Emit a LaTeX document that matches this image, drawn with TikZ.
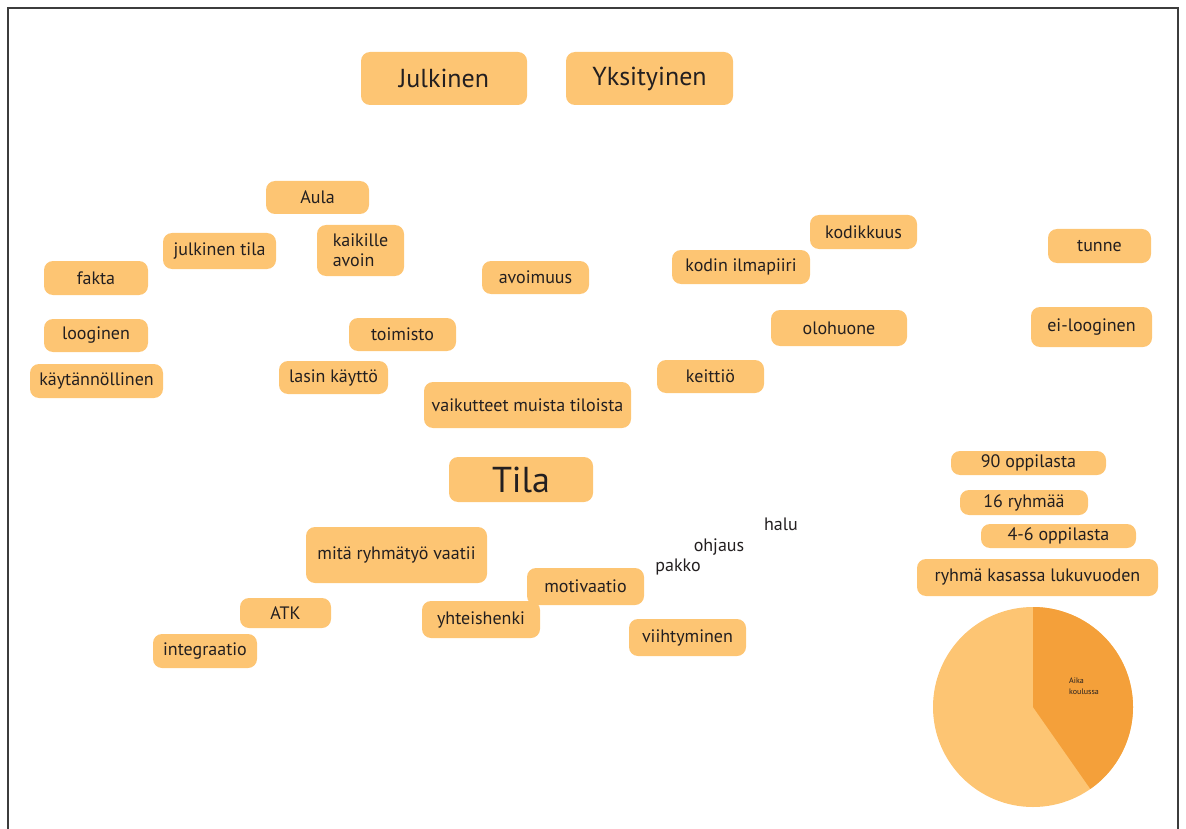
\documentclass[tikz,border=0pt]{standalone}
\usepackage{fontspec}
\setmainfont{PT Sans}
\definecolor{tagfill}{RGB}{253,197,115}
\definecolor{piedark}{RGB}{244,160,58}
\definecolor{ink}{RGB}{35,31,32}
\definecolor{frame}{RGB}{60,60,60}
\tikzset{
  tag/.style 2 args={fill=tagfill, rounded corners=9pt, inner sep=0pt, text=ink,
    minimum width=#1pt, minimum height=#2pt, font=\fontsize{18}{20}\selectfont},
  big/.style={font=\fontsize{26}{30}\selectfont},
  huge/.style={font=\fontsize{36}{40}\selectfont},
  word/.style={text=ink, inner sep=0pt, font=\fontsize{18}{20}\selectfont}
}
\begin{document}
\begin{tikzpicture}[x=1pt,y=-1pt]
  \useasboundingbox (0,0) rectangle (1186,829);
  \draw[frame, line width=1.5pt] (8,829) -- (8,8) -- (1178,8) -- (1178,829);
  % ylarivi
  \node[tag={166}{53}, big] (julkinen) at (444,78.5) {Julkinen};
  \node[tag={167}{53}, big] (yksityinen) at (649.5,78.5) {Yksityinen};
  % julkinen puoli
  \node[tag={103}{33}] (aula) at (317.5,197.5) {Aula};
  \node[tag={113}{36}] (jtila) at (219.5,251) {julkinen tila};
  \node[tag={87}{51}, align=left] (avoin) at (360.5,250.5) {kaikille\\avoin};
  \node[tag={104}{34}] (fakta) at (96,278) {fakta};
  \node[tag={107}{33}] (avoimuus) at (535.5,277.5) {avoimuus};
  \node[tag={104}{33}] (looginen) at (96,335.5) {looginen};
  \node[tag={107}{33}] (toimisto) at (402.5,334.5) {toimisto};
  \node[tag={133}{34}] (kaytannol) at (96.5,381) {käytännöllinen};
  \node[tag={109}{33}] (lasi) at (333.5,377.5) {lasin käyttö};
  % yksityinen puoli
  \node[tag={107}{34}] (kodikkuus) at (863.5,232) {kodikkuus};
  \node[tag={138}{34}] (ilmapiiri) at (741,267) {kodin ilmapiiri};
  \node[tag={103}{34}] (tunne) at (1099.5,246) {tunne};
  \node[tag={136}{36}] (olohuone) at (839,328) {olohuone};
  \node[tag={121}{40}] (eilooginen) at (1091.5,327) {ei-looginen};
  \node[tag={107}{33}] (keittio) at (710.5,376.5) {keittiö};
  \node[tag={207}{46}] (vaikutteet) at (527.5,405) {vaikutteet muista tiloista};
  % keskus
  \node[tag={144}{45}, huge] (tila) at (521,479.5) {Tila};
  % ryhma
  \node[tag={155}{24}] (oppilaat) at (1028.5,463) {90 oppilasta};
  \node[tag={128}{25}] (ryhmat) at (1024,502.5) {16 ryhmää};
  \node[tag={155}{24}] (koko) at (1058.5,536) {4-6 oppilasta};
  \node[tag={241}{37}] (kasassa) at (1037.5,577.5) {ryhmä kasassa lukuvuoden};
  \node[tag={181}{56}] (vaatii) at (396.5,555) {mitä ryhmätyö vaatii};
  \node[tag={117}{37}] (motivaatio) at (585.5,586.5) {motivaatio};
  \node[tag={91}{30}] (atk) at (285.5,613) {ATK};
  \node[tag={118}{37}] (yhteishenki) at (481,619.5) {yhteishenki};
  \node[tag={117}{37}] (viihtyminen) at (687.5,637.5) {viihtyminen};
  \node[tag={104}{34}] (integraatio) at (205,651) {integraatio};
  \node[word] (halu) at (781,524) {halu};
  \node[word] (ohjaus) at (719,547) {ohjaus};
  \node[word] (pakko) at (678,567) {pakko};
  % piirakka
  \node[circle, fill=tagfill, minimum size=200pt, inner sep=0pt, outer sep=0pt] (pie) at (1033,707) {};
  \fill[piedark] (pie.center) -- (pie.north) arc[start angle=90, end angle=-55, radius=100pt] -- cycle;
  \node[text=ink, align=left, inner sep=0pt, font=\fontsize{8}{11}\selectfont, anchor=north west] (aika) at (1069,678) {Aika\\koulussa};
\end{tikzpicture}
\end{document}
